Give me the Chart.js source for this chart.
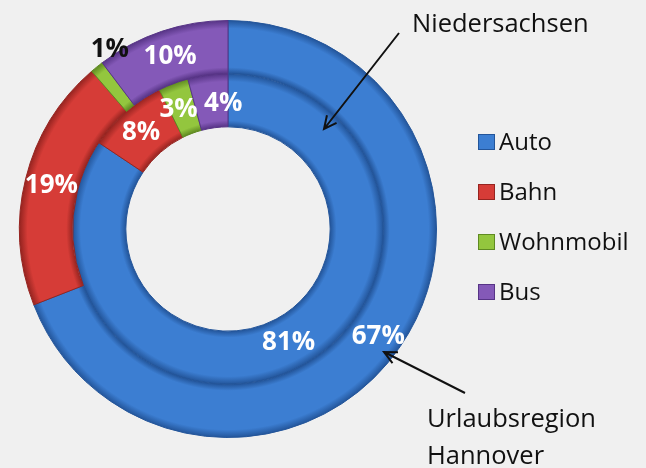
<!DOCTYPE html>
<html>
<head>
<meta charset="utf-8">
<script src="https://cdn.jsdelivr.net/npm/chart.js@4"></script>
<style>
  html, body { margin: 0; padding: 0; background: #f0f0f0; }
  #wrap { width: 646px; height: 468px; }
</style>
</head>
<body>
<div id="wrap"><canvas id="donutChart" width="646" height="468"></canvas></div>
<script>
const categories = ['Auto', 'Bahn', 'Wohnmobil', 'Bus'];
const hannoverValues = [67, 19, 1, 10];
const niedersachsenValues = [81, 8, 3, 4];
const seriesNames = ['Urlaubsregion Hannover', 'Niedersachsen'];
const baseColors = ['#3c7ed2', '#d63c37', '#93c63e', '#8459b8'];
const darkColors = ['#23559a', '#962420', '#5f8a22', '#573486'];

const FONT = '"Open Sans", "DejaVu Sans", sans-serif';

// tube-like shading from inner to outer edge of each ring
const ringFill = (ctx) => {
  const chart = ctx.chart;
  const area = chart.chartArea;
  const ctrl = chart.getDatasetMeta(ctx.datasetIndex).controller;
  const i = ctx.dataIndex;
  if (!area || !ctrl || !ctrl.outerRadius) return baseColors[i];
  const cx = (area.left + area.right) / 2;
  const cy = (area.top + area.bottom) / 2;
  const g = chart.ctx.createRadialGradient(cx, cy, ctrl.innerRadius, cx, cy, ctrl.outerRadius);
  g.addColorStop(0, darkColors[i]);
  g.addColorStop(0.12, baseColors[i]);
  g.addColorStop(0.85, baseColors[i]);
  g.addColorStop(1, darkColors[i]);
  return g;
};

const labelPlugin = {
  id: 'sliceLabels',
  afterDatasetsDraw(chart, args, opts) {
    const ctx = chart.ctx;
    const nudge = opts.nudge || {};
    ctx.save();
    ctx.textAlign = 'center';
    ctx.textBaseline = 'middle';
    ctx.font = 'bold 26px ' + FONT;
    chart.data.datasets.forEach((ds, di) => {
      const meta = chart.getDatasetMeta(di);
      meta.data.forEach((arc, i) => {
        const v = ds.data[i];
        const [nx, ny] = nudge[di + ':' + i] || [0, 0];
        if (v < 2) {
          const mid = (arc.startAngle + arc.endAngle) / 2;
          const r = arc.outerRadius + 8;
          ctx.fillStyle = '#111';
          ctx.fillText(v + '%', arc.x + Math.cos(mid) * r + 18 + nx, arc.y + Math.sin(mid) * r - 11 + ny);
        } else {
          const p = arc.tooltipPosition();
          ctx.fillStyle = '#ffffff';
          ctx.fillText(v + '%', p.x + nx, p.y + ny);
        }
      });
    });
    ctx.restore();
  }
};

const legendAndNotes = {
  id: 'legendAndNotes',
  afterDraw(chart) {
    const ctx = chart.ctx;
    ctx.save();
    // legend
    ctx.font = '24px ' + FONT;
    ctx.textBaseline = 'middle';
    ctx.textAlign = 'left';
    categories.forEach((c, i) => {
      const y = 142 + i * 50;
      ctx.fillStyle = darkColors[i];
      ctx.fillRect(478, y - 8, 17, 16);
      ctx.fillStyle = baseColors[i];
      ctx.fillRect(479, y - 7, 15, 14);
      ctx.fillStyle = '#111';
      ctx.fillText(c, 499, y + 1);
    });
    // series notes
    ctx.font = '25.5px ' + FONT;
    ctx.fillText(seriesNames[1], 412, 25);
    ctx.fillText('Urlaubsregion', 427, 420);
    ctx.fillText('Hannover', 427, 457);
    const arrow = (x1, y1, x2, y2) => {
      ctx.strokeStyle = '#111';
      ctx.lineWidth = 2;
      ctx.beginPath();
      ctx.moveTo(x1, y1);
      ctx.lineTo(x2, y2);
      const a = Math.atan2(y2 - y1, x2 - x1);
      const h = 14;
      ctx.moveTo(x2 - h * Math.cos(a - 0.45), y2 - h * Math.sin(a - 0.45));
      ctx.lineTo(x2, y2);
      ctx.lineTo(x2 - h * Math.cos(a + 0.45), y2 - h * Math.sin(a + 0.45));
      ctx.stroke();
    };
    arrow(399, 33, 324, 129);
    arrow(465, 393, 384, 352);
    ctx.restore();
  }
};

const ctx = document.getElementById('donutChart').getContext('2d');
const myChart = new Chart(ctx, {
  type: 'doughnut',
  data: {
    labels: categories,
    datasets: [
      {
        label: seriesNames[0],
        data: hannoverValues,
        backgroundColor: ringFill,
        borderColor: darkColors,
        borderWidth: 1,
      },
      {
        label: seriesNames[1],
        data: niedersachsenValues,
        backgroundColor: ringFill,
        borderColor: darkColors,
        borderWidth: 1,
      },
    ],
  },
  options: {
    responsive: false,
    animation: false,
    cutout: '49%',
    layout: { padding: { left: 17, top: 20, right: 207, bottom: 30 } },
    plugins: {
      legend: { display: false },
      tooltip: { enabled: false },
      sliceLabels: { nudge: { '1:3': [12, 2], '1:2': [-4, 1], '1:1': [-2, 0], '0:0': [0, 5] } },
    },
  },
  plugins: [labelPlugin, legendAndNotes],
});
</script>
</body>
</html>
